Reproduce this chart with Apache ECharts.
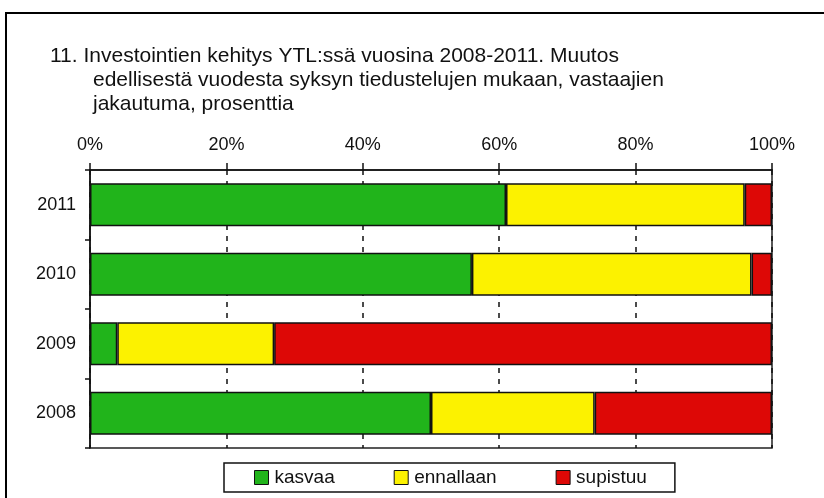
<!DOCTYPE html>
<html>
<head>
<meta charset="utf-8">
<script src="https://cdn.jsdelivr.net/npm/echarts@6/dist/echarts.min.js"></script>
<style>
    html, body { margin: 0; padding: 0; background: #fff; }
    #chart { width: 824px; height: 498px; }
</style>
</head>
<body>
<div id="chart"></div>
<script>
// vuodet ylhäältä alas
const years = ['2011', '2010', '2009', '2008']
const kasvaa = [61, 56, 4, 50]
const ennallaan = [35, 41, 23, 24]
const supistuu = [4, 3, 73, 26]
const xTicks = [0, 20, 40, 60, 80, 100]

const font = '"Liberation Sans", Arial, sans-serif'
const chart = echarts.init(document.getElementById('chart'))

const titleStyle = {
    fontFamily: font,
    fontSize: 21,
    fontWeight: 'normal',
    color: '#111',
    lineHeight: 24
}

function barSeries(name, data, color) {
    return {
        name: name,
        type: 'bar',
        stack: 'all',
        data: data,
        barCategoryGap: '38%',
        itemStyle: {
            color: color,
            borderColor: '#111',
            borderWidth: 1.5
        },
        emphasis: { disabled: true }
    }
}

chart.setOption({
    animation: false,
    textStyle: { fontFamily: font },
    title: [
        {
            text: '11. Investointien kehitys YTL:ssä vuosina 2008-2011. Muutos',
            left: 50,
            top: 44,
            padding: 0,
            textStyle: titleStyle
        },
        {
            text: 'edellisestä vuodesta syksyn tiedustelujen mukaan, vastaajien\njakautuma, prosenttia',
            left: 93,
            top: 68,
            padding: 0,
            textStyle: titleStyle
        }
    ],
    graphic: [
        {
            type: 'rect',
            shape: { x: 6, y: 13, width: 900, height: 600 },
            style: { fill: 'none', stroke: '#000', lineWidth: 2 },
            silent: true
        }
    ],
    legend: {
        left: 224,
        top: 463,
        padding: [5, 28, 5, 30],
        itemGap: 59,
        itemWidth: 14,
        itemHeight: 14,
        icon: 'rect',
        borderColor: '#111',
        borderWidth: 1.5,
        itemStyle: { borderColor: '#111', borderWidth: 1 },
        textStyle: { fontFamily: font, fontSize: 19, color: '#111', padding: [0, 0, 0, 1] },
        data: ['kasvaa', 'ennallaan', 'supistuu']
    },
    grid: {
        left: 90,
        right: 52,
        top: 170,
        bottom: 50,
        show: true,
        borderColor: '#222',
        borderWidth: 1.5
    },
    xAxis: {
        type: 'value',
        position: 'top',
        min: xTicks[0],
        max: xTicks[xTicks.length - 1],
        interval: 20,
        axisLine: { show: true, lineStyle: { color: '#111', width: 1.5 } },
        axisTick: { show: true, length: 7, lineStyle: { color: '#111', width: 1.5 } },
        axisLabel: { formatter: '{value}%', fontSize: 18, color: '#111', margin: 16 },
        splitLine: {
            show: true,
            lineStyle: { color: '#111', width: 1.5, type: [5, 6] }
        }
    },
    yAxis: {
        type: 'category',
        data: years,
        inverse: true,
        axisLine: { show: true, lineStyle: { color: '#111', width: 1.5 } },
        axisTick: { show: true, length: 5, lineStyle: { color: '#111', width: 1.5 } },
        axisLabel: { fontSize: 18, color: '#111', margin: 14 },
        splitLine: { show: false }
    },
    series: [
        barSeries('kasvaa', kasvaa, '#21b41b'),
        barSeries('ennallaan', ennallaan, '#fcf200'),
        barSeries('supistuu', supistuu, '#dd0806')
    ]
})
</script>
</body>
</html>
